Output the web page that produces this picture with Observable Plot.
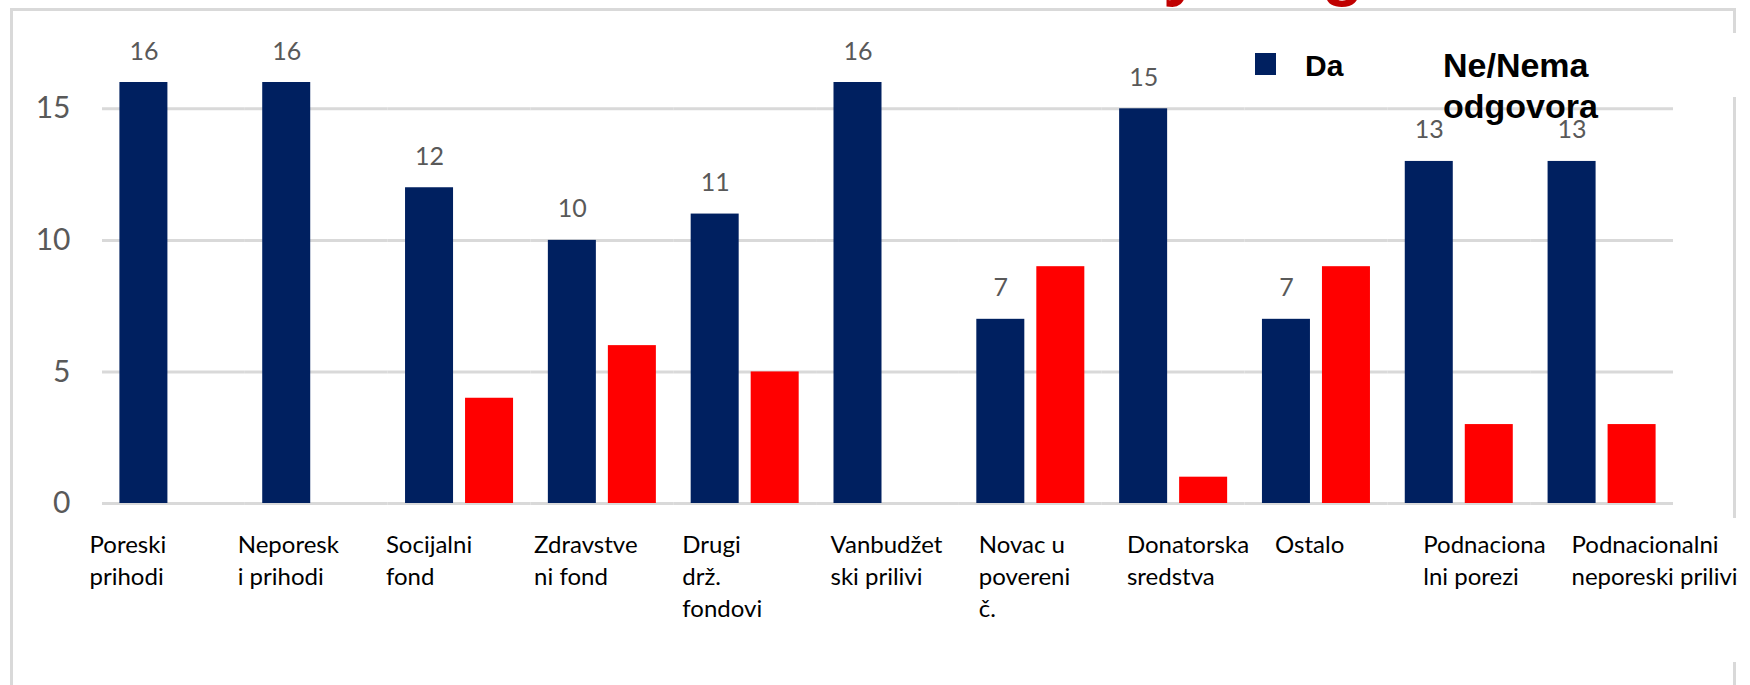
<!DOCTYPE html>
<html>
<head>
<meta charset="utf-8">
<script src="https://cdn.jsdelivr.net/npm/d3@7"></script>
<script src="https://cdn.jsdelivr.net/npm/@observablehq/plot@0.6"></script>
<style>
  html, body { margin: 0; padding: 0; background: #fff; }
  #page { position: relative; width: 1750px; height: 685px; overflow: hidden; background: #fff; }
  #chart { position: absolute; left: 0; top: 0; }
  #frame { position: absolute; left: 10px; top: 8px; width: 1720px; height: 720px;
           border: 3px solid #d9d9d9; border-bottom: none; pointer-events: none; }
  #legend { position: absolute; left: 1240px; top: 33px; width: 510px; height: 64px; background: #fff; }
  #legend .sw { position: absolute; left: 15px; top: 20px; width: 21px; height: 22px; background: #002060; }
  #legend .t1 { position: absolute; left: 65px; top: 17.6px; font: bold 30px/30px "Liberation Sans", Arial, sans-serif; color: #000; white-space: nowrap; }
  #legend .t2 { position: absolute; left: 203px; top: 11.7px; font: bold 34px/41px "Liberation Sans", Arial, sans-serif; color: #000; white-space: nowrap; }
  #labels { position: absolute; left: 20px; top: 518px; }
  #titlefrag { position: absolute; left: 0; top: 0; }
</style>
</head>
<body>
<div id="page">
  <div id="chart"></div>
  <div id="frame"></div>
  <div id="legend">
    <div class="sw"></div>
    <div class="t1">Da</div>
    <div class="t2">Ne/Nema<br>odgovora</div>
  </div>
  <div id="labels"></div>
  <svg id="titlefrag" width="1750" height="9">
    <text x="1163" y="-7" font-family="Liberation Sans, Arial, sans-serif" font-weight="bold" font-size="68" fill="#C00000">y</text>
    <text x="1322" y="-7" font-family="Liberation Sans, Arial, sans-serif" font-weight="bold" font-size="68" fill="#C00000">g</text>
  </svg>
</div>
<script>
// ---- data ----
const categories = [
  "Poreski prihodi", "Neporeski prihodi", "Socijalni fond", "Zdravstveni fond",
  "Drugi drž. fondovi", "Vanbudžetski prilivi", "Novac u povereni č.",
  "Donatorska sredstva", "Ostalo", "Podnacionalni porezi", "Podnacionalni neporeski prilivi"
];
const tickLabels = [
  "Poreski\nprihodi", "Neporesk\ni prihodi", "Socijalni\nfond", "Zdravstve\nni fond",
  "Drugi\ndrž.\nfondovi", "Vanbudžet\nski prilivi", "Novac u\npovereni\nč.",
  "Donatorska\nsredstva", "Ostalo", "Podnaciona\nlni porezi", "Podnacionalni\nneporeski prilivi"
];
const seriesNames = ["Da", "Ne/Nema odgovora"];
const daValues = [16, 16, 12, 10, 11, 16, 7, 15, 7, 13, 13];
const neValues = [0, 0, 4, 6, 5, 0, 9, 1, 9, 3, 3];
const yTicks = [0, 5, 10, 15];
const seriesColors = ["#002060", "#FF0000"];

const rows = categories.flatMap((c, i) => [
  {cat: c, series: seriesNames[0], value: daValues[i]},
  {cat: c, series: seriesNames[1], value: neValues[i]}
]);

const chart = Plot.plot({
  width: 1750,
  height: 520,
  marginTop: 82,
  marginBottom: 17,
  marginLeft: 102,
  marginRight: 77,
  style: {fontFamily: "Lato, 'Open Sans', sans-serif", background: "transparent", overflow: "visible"},
  fx: {domain: categories, padding: 0, round: false, axis: null, label: null},
  x: {domain: seriesNames, paddingInner: 0.2, paddingOuter: 0.29, round: false, axis: null},
  y: {domain: [0, 16], axis: null},
  color: {domain: seriesNames, range: seriesColors},
  marks: [
    Plot.ruleY(yTicks, {stroke: "#d9d9d9", strokeWidth: 3}),
    Plot.barY(rows, {fx: "cat", x: "series", y: "value", fill: "series"}),
    Plot.text(rows.filter(d => d.series === seriesNames[0]), {
      fx: "cat", x: "series", y: "value", text: d => String(d.value),
      dy: -31, fill: "#595959", fontSize: 25
    }),
    Plot.axisY(yTicks, {tickSize: 0, tickPadding: 32, fontSize: 30, fill: "#595959", label: null})
  ]
});
document.getElementById("chart").appendChild(chart);

const labels = Plot.plot({
  width: 1730,
  height: 144,
  marginTop: 12,
  marginBottom: 0,
  marginLeft: 0,
  marginRight: 0,
  style: {fontFamily: "Lato, 'Open Sans', sans-serif", background: "white", overflow: "visible"},
  x: {type: "point", domain: categories, range: [69, 1551], padding: 0, round: false, axis: null},
  marks: [
    Plot.text(categories, {
      x: d => d, text: (d, i) => tickLabels[i], frameAnchor: "top",
      textAnchor: "start", lineAnchor: "top", fontSize: 24, lineHeight: 1.333, fill: "#000"
    })
  ]
});
document.getElementById("labels").appendChild(labels);
</script>
</body>
</html>
